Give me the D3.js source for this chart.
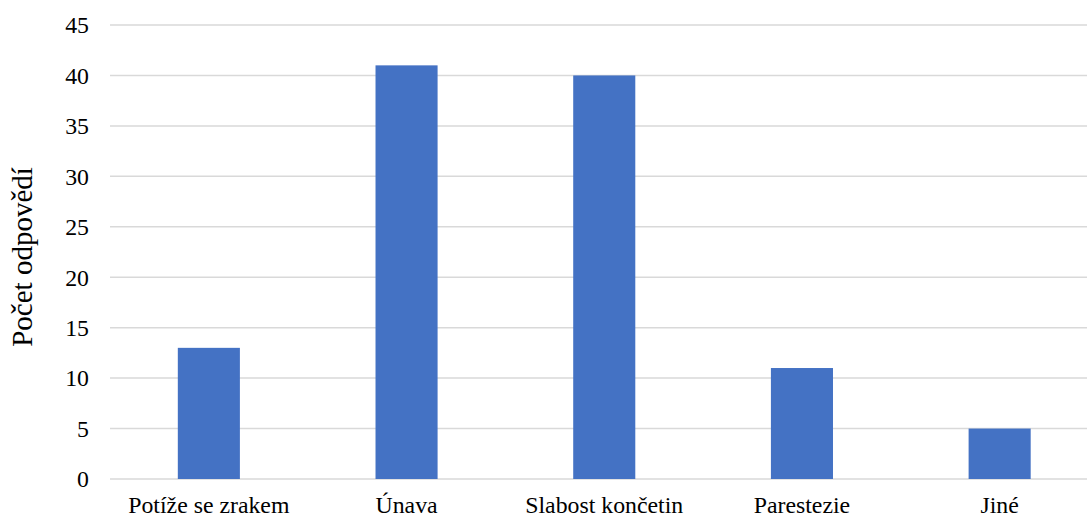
<!DOCTYPE html>
<html>
<head>
<meta charset="utf-8">
<script src="https://cdn.jsdelivr.net/npm/d3@7"></script>
<style>
  html, body { margin: 0; padding: 0; background: #fff; }
  svg { display: block; font-family: "Liberation Serif", "Times New Roman", serif; }
</style>
</head>
<body>
<svg id="chart" width="1087" height="518"></svg>
<script>
// Symptom categories and number of responses for each
const categories = ["Potíže se zrakem", "Únava", "Slabost končetin", "Parestezie", "Jiné"];
const counts = [13, 41, 40, 11, 5];
const yTicks = [0, 5, 10, 15, 20, 25, 30, 35, 40, 45];
const yTitle = "Počet odpovědí";

const svg = d3.select("#chart");
const plot = { left: 110, right: 1098.5, top: 25, bottom: 479 };

const x = d3.scaleBand()
  .domain(categories)
  .range([plot.left, plot.right])
  .paddingInner(0.686)
  .paddingOuter(0.343);

const y = d3.scaleLinear()
  .domain([0, 45])
  .range([plot.bottom, plot.top]);

// horizontal gridlines
svg.append("g")
  .selectAll("line")
  .data(yTicks)
  .join("line")
  .attr("x1", plot.left)
  .attr("x2", plot.right)
  .attr("y1", d => y(d))
  .attr("y2", d => y(d))
  .attr("stroke", "#d9d9d9")
  .attr("stroke-width", 1.5);

// y tick labels
svg.append("g")
  .selectAll("text")
  .data(yTicks)
  .join("text")
  .attr("x", 89)
  .attr("y", d => y(d))
  .attr("dy", "0.35em")
  .attr("text-anchor", "end")
  .attr("font-size", 23.8)
  .attr("fill", "#000")
  .text(d => d);

// bars
svg.append("g")
  .selectAll("rect")
  .data(categories.map((c, i) => ({ c, v: counts[i] })))
  .join("rect")
  .attr("x", d => x(d.c))
  .attr("width", x.bandwidth())
  .attr("y", d => y(d.v))
  .attr("height", d => y(0) - y(d.v))
  .attr("fill", "#4472c4");

// category labels
svg.append("g")
  .selectAll("text")
  .data(categories)
  .join("text")
  .attr("x", d => x(d) + x.bandwidth() / 2)
  .attr("y", 513)
  .attr("text-anchor", "middle")
  .attr("font-size", 23.8)
  .attr("fill", "#000")
  .text(d => d);

// y-axis title
svg.append("text")
  .attr("transform", "translate(32, 257) rotate(-90)")
  .attr("text-anchor", "middle")
  .attr("font-size", 29)
  .attr("fill", "#000")
  .text(yTitle);
</script>
</body>
</html>
